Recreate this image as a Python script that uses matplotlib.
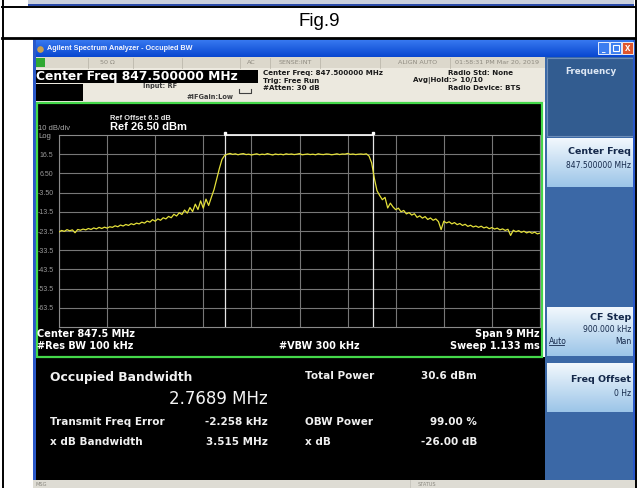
import numpy as np
import matplotlib
matplotlib.use('Agg')
import matplotlib.pyplot as plt
from matplotlib.patches import Rectangle
from matplotlib.colors import LinearSegmentedColormap

W, H = 637, 488

# analyzer settings
center_mhz = 847.5
span_mhz = 9.0
ref_dbm = 26.5
db_per_div = 10
obw_mhz = 2.7689
freq_err_khz = -2.258

y_labels = ['16.5', '6.50', '-3.50', '-13.5', '-23.5', '-33.5', '-43.5', '-53.5', '-63.5']

# trace level (dBm), one point every 0.05 MHz from the left edge (843.0 .. 852.0 MHz)
level_dbm = [
    # 843.00 - 846.10  skirt + rising edge
    -24.0, -23.2, -23.7, -22.8, -23.4, -22.9, -24.4, -22.7, -23.1, -22.5,
    -22.9, -22.2, -22.7, -21.9, -22.4, -21.6, -22.2, -21.5, -22.0, -21.3,
    -21.6, -20.8, -21.3, -20.4, -20.9, -20.1, -20.6, -19.7, -20.2, -19.4,
    -19.8, -18.9, -19.4, -18.3, -18.9, -17.6, -18.4, -17.2, -17.9, -16.6,
    -17.2, -15.9, -16.6, -14.8, -15.7, -14.0, -14.9, -12.6, -14.2, -11.3,
    -13.4, -9.5, -12.3, -7.8, -11.6, -6.9, -10.2, -6.0, -2.0, 3.5,
    9.0, 13.8, 15.9,
    # 846.15 - 848.75  occupied band
    16.5, 16.9, 16.4, 16.7, 16.2, 16.6, 16.8, 16.3, 16.5, 16.1,
    16.4, 16.7, 16.2, 16.5, 16.3, 16.8, 16.4, 16.1, 16.6, 16.3,
    16.5, 16.2, 16.7, 16.4, 16.6, 16.3, 16.5, 16.8, 16.2, 16.4,
    16.6, 16.3, 16.5, 16.2, 16.7, 16.4, 16.3, 16.6, 16.5, 16.2,
    16.4, 16.7, 16.3, 16.6, 16.5, 16.9, 16.4, 16.6, 16.3, 16.5,
    16.6, 16.4, 16.7,
    # 848.80 - 852.00  falling edge + skirt
    15.6, 12.0, 4.0, -2.5, -5.0, -7.2, -6.0, -11.5, -9.0, -11.0,
    -12.4, -11.6, -13.5, -12.8, -14.6, -13.9, -15.2, -14.5, -16.4, -15.6,
    -16.8, -16.0, -17.5, -16.7, -17.9, -17.2, -18.6, -22.8, -18.4, -19.3,
    -18.7, -19.8, -19.1, -20.2, -19.6, -20.6, -20.0, -21.1, -20.5, -21.4,
    -20.9, -21.6, -21.0, -21.9, -21.4, -22.3, -21.7, -22.5, -22.0, -22.9,
    -22.4, -23.2, -22.6, -25.8, -23.1, -23.9, -23.3, -24.2, -23.6, -24.5,
    -23.9, -24.7, -24.1, -25.0, -24.6,
]

f_start = center_mhz - span_mhz / 2
f_stop = center_mhz + span_mhz / 2
freq = np.linspace(f_start, f_stop, len(level_dbm))

fig = plt.figure(figsize=(W / 100, H / 100), dpi=100)
bg = fig.add_axes([0, 0, 1, 1])
bg.axis('off')
ARIAL = 'Liberation Sans'
WIDE = 'DejaVu Sans'


def box(x0, y0, x1, y1, color, ec='none', lw=0, z=1):
    bg.add_patch(Rectangle((x0, y0), x1 - x0, y1 - y0, facecolor=color,
                           edgecolor=ec, lw=lw, zorder=z))


def grad(x0, y0, x1, y1, c_top, c_bot, z=1):
    cmap = LinearSegmentedColormap.from_list('g', [c_top, c_bot])
    g = np.linspace(0, 1, 64)[:, None]
    bg.imshow(g, extent=(x0, x1, y1, y0), cmap=cmap, aspect='auto', zorder=z)


def txt(x, y, s, size, color='white', weight='bold', ha='left', fam=WIDE, **kw):
    bg.text(x, y, s, fontsize=size, color=color, fontweight=weight, ha=ha,
            va='center', family=fam, zorder=5, **kw)


# --- page / table frame ---
box(28, 0, 634, 4.5, '#c9cfdc')
box(28, 4.3, 634, 5.8, '#2a4aa8')
bg.plot([2, 635], [6.6, 6.6], color='black', lw=1.4, zorder=6)
bg.plot([2, 635], [38, 38], color='black', lw=2, zorder=6)
bg.plot([2.5, 2.5], [0, H], color='black', lw=1.4, zorder=6)
bg.plot([635.5, 635.5], [0, H], color='black', lw=1.4, zorder=6)
txt(319, 22, 'Fig.9', 13.5, 'black', 'normal', ha='center', fam=ARIAL)

# --- window title bar ---
grad(33, 39.5, 635, 57, '#3a7cf2', '#0846d0')
bg.scatter([40], [48.5], s=14, color='#c8a050', zorder=4)
txt(47, 48.5, 'Agilent Spectrum Analyzer - Occupied BW', 5.2, '#f4f6ff', fam=ARIAL)
box(598, 42, 609, 54, '#3d7ef0', ec='white', lw=0.6, z=3)
box(610, 42, 621, 54, '#3d7ef0', ec='white', lw=0.6, z=3)
box(622, 42, 633, 54, '#e0552c', ec='white', lw=0.6, z=3)
txt(603.5, 50, '_', 5, 'white', ha='center')
bg.add_patch(Rectangle((612.5, 45), 6, 6, facecolor='none', edgecolor='white', lw=0.8, zorder=4))
txt(627.5, 48, 'x', 7, 'white', ha='center', fam=ARIAL)

# --- status row ---
box(33, 57, 545, 68, '#dcd8cc')
box(33, 58, 45, 67, '#2fa832')
for sx in [88, 133, 182, 240, 270, 320, 380, 450]:
    bg.plot([sx, sx], [57.5, 67.5], color='#bcb8ac', lw=0.6, zorder=2)
for s, x in [('50 Ω', 100), ('AC', 247), ('SENSE:INT', 279), ('ALIGN AUTO', 398),
             ('01:58:31 PM Mar 20, 2019', 455)]:
    txt(x, 62.5, s, 4.6, '#8e8a80', 'normal')

# --- info panel ---
box(33, 68, 545, 102, '#ece9df')
box(33, 69.5, 258, 83, 'black', z=2)
txt(36, 76.5, 'Center Freq 847.500000 MHz', 8.8, 'white')
box(33, 84, 83, 101, 'black', z=2)
txt(143, 86, 'Input: RF', 4.8, '#3a3a3a')
txt(187, 97, '#IFGain:Low', 4.8, '#3a3a3a')
bg.plot([239, 239, 251, 251], [89, 93, 93, 89], color='#404040', lw=0.8, zorder=3)
for s, x, y in [('Center Freq: 847.500000 MHz', 263, 73), ('Trig: Free Run', 263, 80.5),
                ('#Atten: 30 dB', 263, 88), ('Avg|Hold:> 10/10', 413, 80.5),
                ('Radio Std: None', 448, 73), ('Radio Device: BTS', 448, 88)]:
    txt(x, y, s, 5.1, '#1a1a1a')

# --- graph pane ---
box(33, 102, 543, 357, 'black')
bg.add_patch(Rectangle((36.5, 103), 505, 253.5, facecolor='none', edgecolor='#44d84a',
                       lw=1.6, zorder=3))
txt(110, 118, 'Ref Offset 6.5 dB', 5.4, '#e8e8e8', fam=ARIAL)
txt(110, 127, 'Ref 26.50 dBm', 8, 'white', fam=ARIAL)
txt(38, 128.5, '10 dB/div', 5.5, '#a8a8a8', 'normal', fam=ARIAL)
txt(38, 136.5, 'Log', 5.5, '#a8a8a8', 'normal', fam=ARIAL)
txt(37, 334, 'Center 847.5 MHz', 7, 'white')
txt(37, 346, '#Res BW 100 kHz', 7, 'white')
txt(279, 346, '#VBW 300 kHz', 7, 'white')
txt(540, 334, 'Span 9 MHz', 7, 'white', ha='right')
txt(540, 346, 'Sweep 1.133 ms', 7, 'white', ha='right')

# --- results pane ---
box(33, 357, 545, 480, 'black')
txt(50, 378, 'Occupied Bandwidth', 8.9, '#f0f0f0')
txt(268, 399, f'{obw_mhz:.4f} MHz', 12, '#f4f4f4', 'normal', ha='right')
txt(305, 376, 'Total Power', 7.5, '#f0f0f0')
txt(477, 376, '30.6 dBm', 7.5, '#f0f0f0', ha='right')
txt(50, 422, 'Transmit Freq Error', 7.5, '#f0f0f0')
txt(268, 422, f'{freq_err_khz:.3f} kHz', 7.5, '#f0f0f0', ha='right')
txt(305, 422, 'OBW Power', 7.5, '#f0f0f0')
txt(477, 422, '99.00 %', 7.5, '#f0f0f0', ha='right')
txt(50, 442, 'x dB Bandwidth', 7.5, '#f0f0f0')
txt(268, 442, '3.515 MHz', 7.5, '#f0f0f0', ha='right')
txt(305, 442, 'x dB', 7.5, '#f0f0f0')
txt(477, 442, '-26.00 dB', 7.5, '#f0f0f0', ha='right')

# window frame left edge + message bar
box(33, 39.5, 35.5, 480, '#2a58c8', z=2)
box(33, 480, 635, 488, '#dedcd4')
bg.plot([410, 410], [480, 488], color='#c4c2ba', lw=0.6, zorder=2)
txt(36, 484.5, 'MSG', 3.6, '#8a8880', 'normal')
txt(418, 484.5, 'STATUS', 3.6, '#8a8880', 'normal')

# --- softkey panel ---
box(545, 57, 634, 480, '#3b68a6')
box(546.5, 58, 632.5, 136, '#325c90', ec='#6d8db8', lw=0.8, z=2)
txt(591, 71, 'Frequency', 6.3, '#dde7f4', ha='center')
key_dark = '#14284a'
grad(547, 138, 633, 187, '#f2f8fd', '#9cc5e8', z=2)
txt(631, 152, 'Center Freq', 6.8, key_dark, ha='right')
txt(631, 165, '847.500000 MHz', 5.5, key_dark, 'normal', ha='right')
grad(547, 307, 633, 356, '#f2f8fd', '#9cc5e8', z=2)
txt(631, 318, 'CF Step', 6.8, key_dark, ha='right')
txt(631, 330, '900.000 kHz', 5.5, key_dark, 'normal', ha='right')
txt(549, 341, 'Auto', 5.5, key_dark, 'normal')
bg.plot([549, 564], [344.8, 344.8], color=key_dark, lw=0.6, zorder=5)
txt(631, 341, 'Man', 5.5, key_dark, 'normal', ha='right')
grad(547, 363, 633, 412, '#f2f8fd', '#9cc5e8', z=2)
txt(631, 379, 'Freq Offset', 6.8, key_dark, ha='right')
txt(631, 393, '0 Hz', 5.5, key_dark, 'normal', ha='right')
box(632.5, 39.5, 635, 480, '#2a58c8', z=2)

bg.set_xlim(0, W)
bg.set_ylim(H, 0)

# --- trace axes on the graticule ---
gx0, gx1, gy0, gy1 = 59, 540, 135, 327
ax = fig.add_axes([gx0 / W, 1 - gy1 / H, (gx1 - gx0) / W, (gy1 - gy0) / H])
ax.set_facecolor('none')
ax.set_xlim(f_start, f_stop)
ax.set_ylim(ref_dbm - 10 * db_per_div, ref_dbm)
ax.set_xticks(np.linspace(f_start, f_stop, 11))
ax.set_xticklabels([])
yt = [ref_dbm - db_per_div * (k + 1) for k in range(len(y_labels))]
ax.set_yticks(yt)
ax.set_yticklabels(y_labels, family=ARIAL)
ax.tick_params(length=0, labelsize=5, labelcolor='#9a9a9a', pad=4)
ax.grid(True, color='#777777', lw=0.8)
for sp in ax.spines.values():
    sp.set_color('#8a8a8a')
    sp.set_linewidth(0.8)

ax.plot(freq, level_dbm, color='#e4e03a', lw=0.9, zorder=4)

obw_center = center_mhz + freq_err_khz / 1000
lo, hi = obw_center - obw_mhz / 2, obw_center + obw_mhz / 2
ax.axvline(lo, color='#e6e6e6', lw=0.9, zorder=3)
ax.axvline(hi, color='#e6e6e6', lw=0.9, zorder=3)
ax.plot([lo, hi], [ref_dbm, ref_dbm], color='white', lw=1.2, clip_on=False, zorder=5)
ax.plot([lo, hi], [ref_dbm + 0.8, ref_dbm + 0.8], 's', ms=1.5, color='white',
        clip_on=False, zorder=5)

fig.savefig('out.png', dpi=100)
